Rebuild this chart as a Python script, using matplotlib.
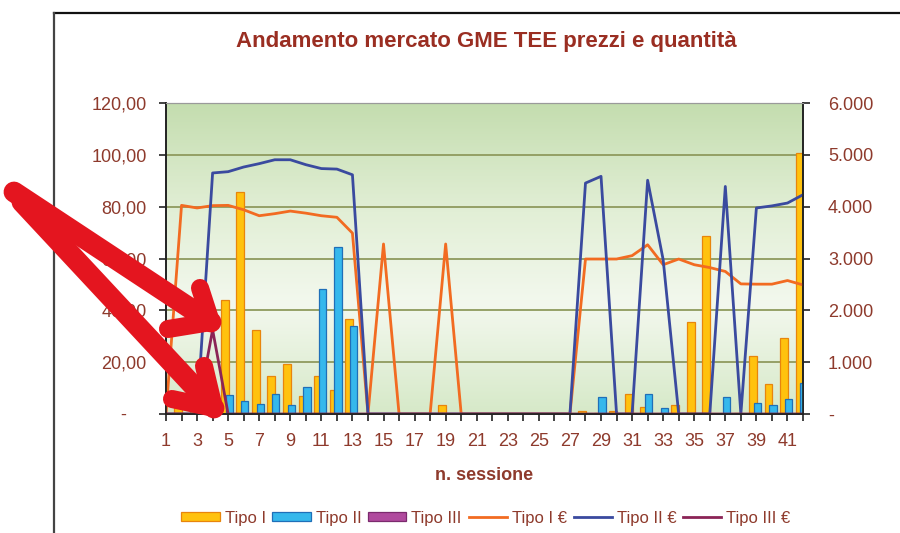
import numpy as np
import matplotlib
matplotlib.use("Agg")
import matplotlib.pyplot as plt
from matplotlib.lines import Line2D
from matplotlib.colors import LinearSegmentedColormap

plt.rcParams["font.family"] = ["Liberation Sans", "DejaVu Sans"]

sessions = list(range(1, 43))

# prezzi (asse sinistro, euro)
tipo1_eur = [0, 80.5, 79.5, 80.4, 80.5, 78.8, 76.5, 77.3, 78.3, 77.5, 76.5, 75.9, 69.8,
             0, 65.6, 0, 0, 0, 65.6, 0, 0, 0, 0, 0, 0, 0, 0,
             59.8, 59.8, 59.8, 61.1, 65.3, 57.6, 59.8, 57.6, 56.5, 55.0, 50.2, 50.1, 50.1, 51.5, 49.8]
tipo2_eur = [0, 0, 0, 93.0, 93.5, 95.3, 96.6, 98.1, 98.1, 96.2, 94.7, 94.5, 92.3,
             0, 0, 0, 0, 0, 0, 0, 0, 0, 0, 0, 0, 0, 0,
             89.1, 91.7, 0, 0, 90.2, 59.5, 0, 0, 0, 87.8, 0, 79.5, 80.3, 81.4, 84.6]
tipo3_eur = [0, 0, 0, 32.5] + [0] * 38

# quantita (asse destro)
tipo1_q = [0, 140, 100, 80, 2200, 4280, 1620, 740, 970, 340, 740, 460, 1840,
           0, 0, 0, 0, 0, 175, 0, 0, 0, 0, 0, 0, 0, 0,
           65, 20, 65, 390, 140, 0, 175, 1770, 3440, 0, 25, 1120, 580, 1460, 5040]
tipo2_q = [0, 0, 0, 0, 370, 245, 200, 385, 175, 530, 2410, 3220, 1690,
           0, 0, 0, 0, 0, 0, 0, 0, 0, 0, 0, 0, 0, 0,
           0, 335, 0, 0, 385, 110, 0, 0, 0, 335, 0, 220, 175, 285, 605]
tipo3_q = [0] * 42

left_ticks = [0, 20, 40, 60, 80, 100, 120]
left_labels = ["-    ", "20,00", "40,00", "60,00", "80,00", "100,00", "120,00"]
right_ticks = [0, 1000, 2000, 3000, 4000, 5000, 6000]
right_labels = ["-", "1.000", "2.000", "3.000", "4.000", "5.000", "6.000"]

TXT = "#8e3a2c"
W, H = 900, 533

fig = plt.figure(figsize=(9, 5.33), dpi=100)
fig.patch.set_facecolor("white")

# bars on the base axes (quantities), lines on the twin (prices) so lines stay on top
ax = fig.add_axes([166 / W, 1 - 414 / H, (803 - 166) / W, (414 - 103) / H])
ax2 = ax.twinx()

x = np.array(sessions, dtype=float)
ax.set_xlim(1, 42)
ax.set_ylim(0, 6000)
ax2.set_ylim(0, 120)

# green gradient background
grad = LinearSegmentedColormap.from_list(
    "bg", [(0.0, "#d6e9c8"), (0.35, "#f3f8ee"), (0.65, "#e2efd6"), (1.0, "#c4ddaf")])
ax.imshow(np.linspace(0, 1, 256).reshape(-1, 1), aspect="auto", cmap=grad,
          extent=(1, 42, 0, 6000), origin="lower", zorder=0)

for yv in right_ticks[1:]:
    ax.axhline(yv, color="#8f9a5e", lw=1.3, zorder=1)

ax.bar(x - 0.22, tipo1_q, width=0.5, color="#ffc20e", edgecolor="#e8850c", lw=0.9, zorder=2, label="Tipo I")
ax.bar(x + 0.07, tipo2_q, width=0.47, color="#35b8ec", edgecolor="#1f6fb8", lw=0.9, zorder=3, label="Tipo II")
ax.bar(x + 0.35, tipo3_q, width=0.47, color="#b04a9e", edgecolor="#7b2a6e", lw=0.9, zorder=3, label="Tipo III")

ax2.plot(x, tipo1_eur, color="#f26b21", lw=2.0, label="Tipo I €")
ax2.plot(x, tipo2_eur, color="#3a4a9f", lw=2.0, label="Tipo II €")
ax2.plot(x, tipo3_eur, color="#8b2456", lw=2.0, label="Tipo III €")

# axis sides: prices left, quantities right
ax.yaxis.tick_right()
ax2.yaxis.tick_left()
ax2.set_yticks(left_ticks)
ax2.set_yticklabels(left_labels)
ax.set_yticks(right_ticks)
ax.set_yticklabels(right_labels)

ax.set_xticks(sessions)
ax.set_xticklabels([str(s) if s % 2 == 1 else "" for s in sessions])

for a in (ax, ax2):
    a.tick_params(axis="both", direction="out", length=5, width=1.2, color="#222222",
                  labelsize=13, labelcolor=TXT)
    for side in ("left", "right", "bottom"):
        a.spines[side].set_color("#222222")
        a.spines[side].set_linewidth(1.2)
    a.spines["top"].set_color("#9a9a9a")
ax.tick_params(axis="y", pad=13)
ax2.tick_params(axis="y", pad=9)
ax.tick_params(axis="x", pad=9)

ax.set_xlabel("n. sessione", fontsize=13, fontweight="bold", color=TXT, labelpad=12)

fig.text(486 / W, 1 - 42 / H, "Andamento mercato GME TEE prezzi e quantità",
         ha="center", va="center", fontsize=16, fontweight="bold", color="#9a2e22")

h1, l1 = ax.get_legend_handles_labels()
h2, l2 = ax2.get_legend_handles_labels()
leg = fig.legend(h1 + h2, l1 + l2, loc="center", bbox_to_anchor=(486 / W, 1 - 518 / H),
                 ncol=6, frameon=False, fontsize=12, handlelength=2.3, handleheight=0.5,
                 handletextpad=0.3, columnspacing=0.4, borderaxespad=0)
for t in leg.get_texts():
    t.set_color(TXT)


def px(xp, yp):
    return xp / W, 1 - yp / H


# document frame
fig.add_artist(Line2D([px(54, 0)[0], 1], [px(0, 13)[1]] * 2, color="#111111", lw=1.6))
fig.add_artist(Line2D([px(54, 0)[0]] * 2, [px(0, 13)[1], 0], color="#444444", lw=1.6))

# red hand-drawn arrows
RED = "#e4151f"
for pts, lw in [
    ([(14, 192), (211, 322)], 15),
    ([(200, 288), (211, 322), (168, 329)], 13),
    ([(22, 202), (214, 408)], 15),
    ([(204, 366), (214, 408), (172, 399)], 13),
]:
    xs, ys = zip(*[px(a, b) for a, b in pts])
    fig.add_artist(Line2D(xs, ys, color=RED, lw=lw, solid_capstyle="round",
                          solid_joinstyle="round", zorder=10))

fig.savefig("out.png", dpi=100, facecolor="white")
